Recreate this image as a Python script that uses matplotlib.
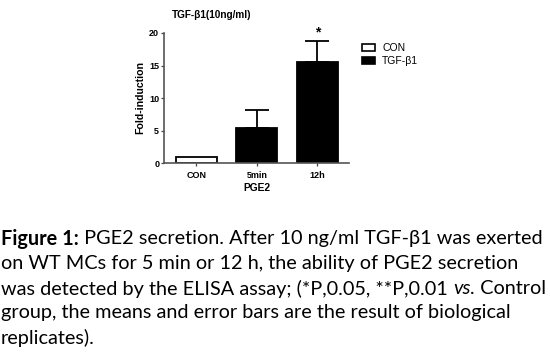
import matplotlib
matplotlib.use("Agg")
import matplotlib.pyplot as plt

# data
groups = ["CON", "5min", "12h"]
means = [1.0, 5.4, 15.6]
upper_err = [0.0, 2.7, 3.2]
fill_colors = ["white", "black", "black"]
star_labels = ["", "", "*"]

legend_labels = ["CON", "TGF-\u03b21"]

caption_lines = [
    [("Figure 1:", "bold", "normal"), (" PGE2 secretion. After 10 ng/ml TGF-\u03b21 was exerted", "normal", "normal")],
    [("on WT MCs for 5 min or 12 h, the ability of PGE2 secretion", "normal", "normal")],
    [("was detected by the ELISA assay; (*P,0.05, **P,0.01 ", "normal", "normal"),
     ("vs.", "normal", "italic"), (" Control", "normal", "normal")],
    [("group, the means and error bars are the result of biological", "normal", "normal")],
    [("replicates).", "normal", "normal")],
]


def main():
    W, H = 550, 353
    fig = plt.figure(figsize=(W / 100, H / 100), dpi=100)
    plt.rcParams["font.family"] = ["Liberation Sans", "DejaVu Sans"]

    ax = fig.add_axes([164 / W, 1 - 163 / H, (349 - 164) / W, (163 - 33) / H])
    x = list(range(len(groups)))
    ax.bar(x, means, width=0.68, color=fill_colors, edgecolor="black",
           linewidth=1.3, zorder=2)
    ax.errorbar(x[1:], means[1:], yerr=[[0] * 2, upper_err[1:]], fmt="none",
                ecolor="black", elinewidth=1.3, capsize=8.5, capthick=1.3, zorder=1)
    for xi, m, e, s in zip(x, means, upper_err, star_labels):
        if s:
            ax.text(xi, m + e + 0.2, s, ha="center", va="bottom", fontsize=10,
                    fontweight="bold")

    ax.set_xlim(-0.53, 2.52)
    ax.set_ylim(0, 20)
    ax.set_yticks([0, 5, 10, 15, 20])
    ax.set_xticks(x)
    ax.set_xticklabels(groups, fontsize=6.5, fontweight="bold")
    ax.tick_params(axis="y", labelsize=6.5, length=2.5, width=0.9, pad=1,
                   color="#444444")
    ax.tick_params(axis="x", length=2, width=0.9, pad=4, color="#444444")
    for lab in ax.get_yticklabels():
        lab.set_fontweight("bold")
    for side in ["top", "right"]:
        ax.spines[side].set_visible(False)
    for side in ["left", "bottom"]:
        ax.spines[side].set_linewidth(1.2)
        ax.spines[side].set_color("#555555")

    ax.set_ylabel("Fold-induction", fontsize=7.6, fontweight="bold", labelpad=3)
    ax.set_xlabel("PGE2", fontsize=7.4, fontweight="bold", labelpad=2)
    fig.text(172 / W, 1 - 15 / H, "TGF-\u03b21(10ng/ml)", fontsize=7.2,
             fontweight="bold", va="center", ha="left")

    # legend
    handles = [plt.Rectangle((0, 0), 1, 1, facecolor=c, edgecolor="black", linewidth=1.2)
               for c in ["white", "black"]]
    fig.legend(handles, legend_labels, loc="upper left",
               bbox_to_anchor=(355 / W, 1 - 36 / H), frameon=False,
               fontsize=7.5, handlelength=1.2, handleheight=0.7,
               handletextpad=0.7, labelspacing=0.3, borderpad=0.2)

    # caption with mixed styles
    fig.canvas.draw()
    renderer = fig.canvas.get_renderer()
    line_y = [237, 262, 287, 311, 336]
    for runs, yp in zip(caption_lines, line_y):
        xp = 1.0
        for txt, weight, style in runs:
            t = fig.text(xp / W, 1 - yp / H, txt, fontsize=14.3, family="Lato",
                         fontweight=weight, fontstyle=style, va="center_baseline",
                         ha="left")
            bb = t.get_window_extent(renderer)
            xp += bb.width

    fig.savefig("out.png", dpi=100)


if __name__ == "__main__":
    main()
